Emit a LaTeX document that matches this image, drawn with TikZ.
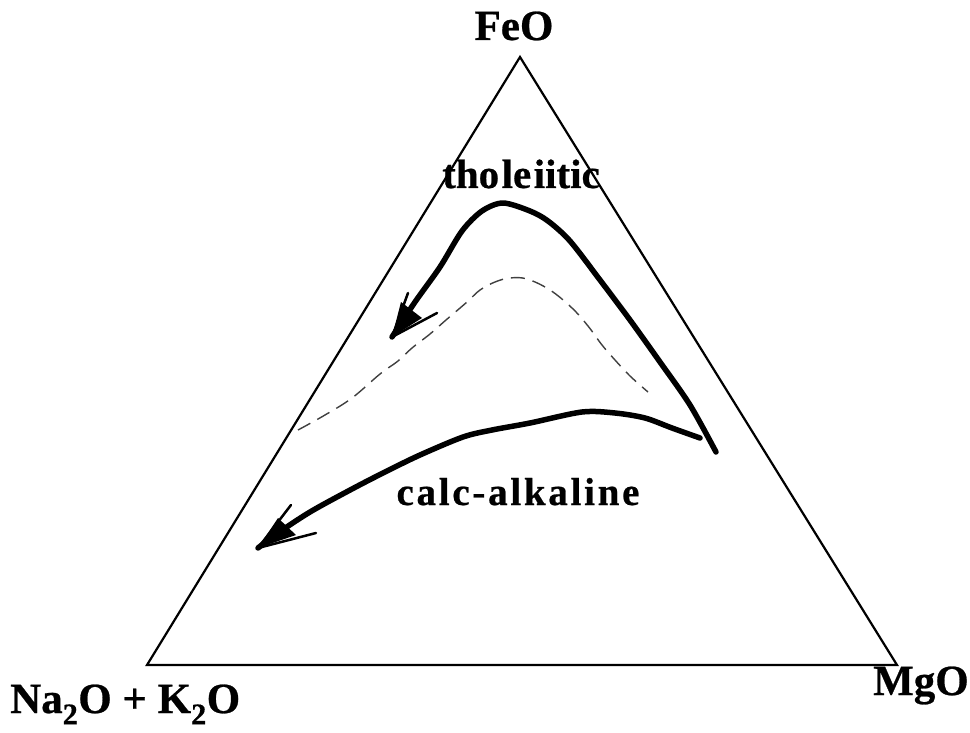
\documentclass[tikz,border=0pt]{standalone}
\usepackage{fontspec}
\setmainfont{Liberation Serif}
\begin{document}
\begin{tikzpicture}[x=1pt,y=-1pt,
  lbl/.style={font=\fontsize{43}{46}\selectfont\bfseries\addfontfeature{FakeBold=0.6}, inner sep=0pt},
  frame/.style={line width=2.2pt, line join=miter},
  trend/.style={line width=5.5pt, line cap=round, line join=round},
  guide/.style={line width=1.4pt, black!75, dash pattern=on 14pt off 8pt},
  barb/.style={line width=2.5pt, line cap=round}]
\useasboundingbox (0,0) rectangle (970,733);
\fill[white] (0,0) rectangle (970,733);
% triangle
\coordinate (top) at (520,57);
\coordinate (bl) at (147,665);
\coordinate (br) at (897,665);
\draw[frame] (top) -- (bl) -- (br) -- cycle;
% labels
\node[lbl, anchor=base] (feo) at (514,40) {FeO};
\node[lbl, anchor=base west] (nak) at (10,713) {Na\textsubscript{2}O + K\textsubscript{2}O};
\node[lbl, anchor=base west] (mgo) at (873,695) {MgO};
\node[inner sep=0pt, anchor=base, font=\fontsize{41}{44}\selectfont\bfseries\addfontfeature{FakeBold=0.6}] (thol) at (521,188) {tho\kern2.5pt le\kern2.5pt iitic};
\node[inner sep=0pt, anchor=base, font=\fontsize{39}{42}\selectfont\bfseries\addfontfeature{FakeBold=0.6,LetterSpace=7}] (calc) at (518,505) {calc-alkaline};
% dashed guide curve
\draw[guide] plot[smooth, tension=0.6] coordinates {(298,430) (325,415) (352,398) (380,374) (398,361) (412,348) (430,334) (446,320) (467,302) (480,290) (495,282) (510,278) (527,279) (550,290) (572,308) (588,326) (602,345) (615,360) (630,376) (648,392)};
% tholeiitic trend
\coordinate (ttip) at (392,337);
\draw[trend] plot[smooth, tension=0.5] coordinates {(716,452) (690,405) (660,362) (630,320) (600,280) (570,241) (548,221) (530,211) (503,203) (482,211) (462,231) (440,267) (415,302) (ttip)};
\fill (ttip) -- (401,302) -- (422,318) -- cycle;
\draw[barb] (ttip) -- (408,293);
\draw[barb] (ttip) -- (437,313);
% calc-alkaline trend
\coordinate (ctip) at (258,548);
\draw[trend] plot[smooth, tension=0.5] coordinates {(700,438) (672,428) (645,418) (615,413) (582,412) (530,423) (492,430) (463,437) (420,455) (385,472) (352,489) (310,512) (275,535) (ctip)};
\fill (ctip) -- (278,518) -- (296,535) -- cycle;
\draw[barb] (ctip) -- (291,505);
\draw[barb] (ctip) -- (316,533);
\end{tikzpicture}
\end{document}
